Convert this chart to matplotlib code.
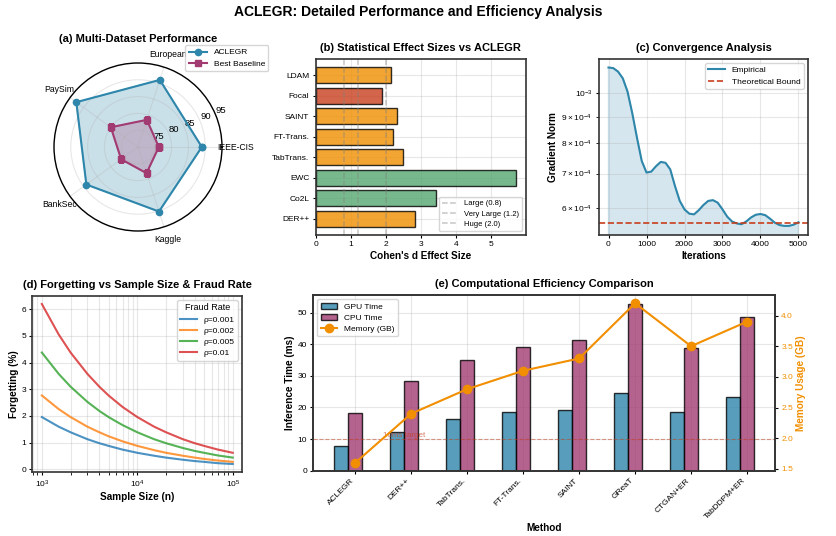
import numpy as np
import matplotlib
matplotlib.use("Agg")
import matplotlib.pyplot as plt

plt.rcParams['font.family'] = ['Liberation Sans', 'DejaVu Sans']
plt.rcParams['axes.linewidth'] = 1.2
plt.rcParams['axes.edgecolor'] = '#333333'
plt.rcParams['xtick.labelsize'] = 6
plt.rcParams['ytick.labelsize'] = 6
plt.rcParams['xtick.major.size'] = 2.5
plt.rcParams['ytick.major.size'] = 2.5
plt.rcParams['xtick.major.pad'] = 2
plt.rcParams['ytick.major.pad'] = 2

BLUE = '#2E86AB'
PURPLE = '#A23B72'
ORANGE = '#F18F01'
RED = '#C73E1D'
GREEN = '#55A870'

# ---------------- data ----------------
radar_cats = ['IEEE-CIS', 'European', 'PaySim', 'BankSec', 'Kaggle']
radar_aclegr = [89.0, 91.0, 92.7, 89.0, 90.2]
radar_base = [76.2, 78.5, 80.0, 76.2, 78.2]
radar_ticks = [75, 80, 85, 90, 95]

effect_methods = ['DER++', 'Co2L', 'EWC', 'TabTrans.', 'FT-Trans.', 'SAINT', 'Focal', 'LDAM']
effect_values = [2.82, 3.43, 5.70, 2.48, 2.19, 2.31, 1.88, 2.14]
effect_colors = [ORANGE, GREEN, GREEN, ORANGE, ORANGE, ORANGE, RED, ORANGE]
thresholds = [0.8, 1.2, 2.0]
threshold_labels = ['Large (0.8)', 'Very Large (1.2)', 'Huge (2.0)']

iters = [0, 125, 250, 375, 500, 625, 750, 875, 1000, 1125, 1250, 1375, 1500,
         1625, 1750, 1875, 2000, 2125, 2250, 2375, 2500, 2625, 2750, 2875,
         3000, 3125, 3250, 3375, 3500, 3625, 3750, 3875, 4000, 4125, 4250,
         4375, 4500, 4625, 4750, 4875, 5000]
grad_norm = [1.120e-3, 1.117e-3, 1.100e-3, 1.068e-3, 1.007e-3, 9.15e-4, 8.20e-4,
             7.40e-4, 7.03e-4, 7.06e-4, 7.23e-4, 7.37e-4, 7.34e-4, 7.13e-4,
             6.62e-4, 6.20e-4, 5.97e-4, 5.86e-4, 5.84e-4, 5.95e-4, 6.09e-4,
             6.20e-4, 6.22e-4, 6.15e-4, 5.97e-4, 5.78e-4, 5.66e-4, 5.61e-4,
             5.59e-4, 5.66e-4, 5.76e-4, 5.83e-4, 5.85e-4, 5.82e-4, 5.73e-4,
             5.63e-4, 5.57e-4, 5.55e-4, 5.55e-4, 5.58e-4, 5.64e-4]
bound_value = 5.61e-4

sample_sizes = [1000, 1500, 2000, 3000, 4000, 5000, 7000, 10000, 15000, 20000,
                30000, 40000, 50000, 70000, 100000]
fraud_labels = ['ρ=0.001', 'ρ=0.002', 'ρ=0.005', 'ρ=0.01']
forget_001 = [1.96, 1.60, 1.39, 1.13, 0.98, 0.88, 0.74, 0.62, 0.51, 0.44, 0.36, 0.31, 0.28, 0.23, 0.20]
forget_002 = [2.77, 2.26, 1.96, 1.60, 1.39, 1.24, 1.05, 0.88, 0.72, 0.62, 0.51, 0.44, 0.39, 0.33, 0.28]
forget_005 = [4.38, 3.58, 3.10, 2.53, 2.19, 1.96, 1.66, 1.39, 1.13, 0.98, 0.80, 0.69, 0.62, 0.52, 0.44]
forget_010 = [6.20, 5.06, 4.38, 3.58, 3.10, 2.77, 2.34, 1.96, 1.60, 1.39, 1.13, 0.98, 0.88, 0.74, 0.62]
fraud_colors = ['#1f77b4', '#ff7f0e', '#2ca02c', '#d62728']

eff_methods = ['ACLEGR', 'DER++', 'TabTrans.', 'FT-Trans.', 'SAINT', 'GReaT', 'CTGAN+ER', 'TabDDPM+ER']
gpu_time = [7.8, 12.2, 16.4, 18.7, 19.2, 24.5, 18.7, 23.4]
cpu_time = [18.2, 28.3, 35.1, 39.2, 41.3, 52.8, 38.9, 48.7]
memory_gb = [1.6, 2.4, 2.8, 3.1, 3.3, 4.2, 3.5, 3.9]
target_ms = 10

# ---------------- figure ----------------
W, H = 837, 536
fig = plt.figure(figsize=(W / 100, H / 100), dpi=100)

def rect(l, t, r, b):
    return [l / W, 1 - b / H, (r - l) / W, (b - t) / H]

fig.suptitle('ACLEGR: Detailed Performance and Efficiency Analysis',
             fontsize=10, fontweight='bold', y=1 - 12 / H, va='center')

# (a) radar
axa = fig.add_axes(rect(54, 63, 222, 231), projection='polar')
angles = np.linspace(0, 2 * np.pi, len(radar_cats), endpoint=False).tolist()
ang_c = angles + angles[:1]
va = radar_aclegr + radar_aclegr[:1]
vb = radar_base + radar_base[:1]
axa.plot(ang_c, va, 'o-', color=BLUE, lw=1.5, ms=4.5, label='ACLEGR')
axa.fill(ang_c, va, color=BLUE, alpha=0.25)
axa.plot(ang_c, vb, 's-', color=PURPLE, lw=1.5, ms=4.5, label='Best Baseline')
axa.fill(ang_c, vb, color=PURPLE, alpha=0.25)
axa.set_xticks(angles)
axa.set_xticklabels(radar_cats, fontsize=6.2)
axa.set_ylim(70, 95)
axa.set_yticks(radar_ticks)
axa.set_yticklabels([str(t) for t in radar_ticks], fontsize=6.8)
axa.grid(True, alpha=0.3)
axa.spines['polar'].set_color('black')
axa.spines['polar'].set_linewidth(1.0)
axa.tick_params(axis='x', pad=0)
axa.set_title('(a) Multi-Dataset Performance', fontsize=8, fontweight='bold', pad=15)
axa.legend(loc='upper right', bbox_to_anchor=(1.3, 1.13), fontsize=6,
           handlelength=2.2, borderpad=0.4, labelspacing=0.4)

# (b) effect sizes
axb = fig.add_axes(rect(315.7, 59, 525.7, 235))
ypos = np.arange(len(effect_methods))
axb.barh(ypos, effect_values, height=0.8, color=effect_colors, alpha=0.8,
         edgecolor='black', linewidth=1.0)
for t, lab in zip(thresholds, threshold_labels):
    axb.axvline(t, color='gray', linestyle='--', alpha=0.45, linewidth=1.1, label=lab)
axb.set_yticks(ypos)
axb.set_yticklabels(effect_methods)
axb.set_xlabel("Cohen's d Effect Size", fontsize=7.2, fontweight='bold', labelpad=2)
axb.set_title('(b) Statistical Effect Sizes vs ACLEGR', fontsize=8, fontweight='bold')
axb.grid(True, alpha=0.3)
axb.set_axisbelow(True)
axb.legend(loc='lower right', fontsize=5.5, labelspacing=0.4)

# (c) convergence
axc = fig.add_axes(rect(599, 59, 808, 235))
axc.plot(iters, grad_norm, color=BLUE, lw=1.5, label='Empirical')
axc.fill_between(iters, grad_norm, 1e-5, color=BLUE, alpha=0.2)
axc.axhline(bound_value, color=RED, linestyle='--', lw=1.2, label='Theoretical Bound')
axc.set_yscale('log')
axc.set_ylim(5.33e-4, 1.163e-3)
axc.set_xlim(-250, 5250)
axc.set_xlabel('Iterations', fontsize=7.2, fontweight='bold', labelpad=2)
axc.set_ylabel('Gradient Norm', fontsize=7.2, fontweight='bold', labelpad=2)
axc.set_title('(c) Convergence Analysis', fontsize=8, fontweight='bold')
axc.grid(True, which='both', alpha=0.3)
axc.tick_params(axis='y', which='minor', labelsize=6)
axc.legend(loc='upper right', fontsize=6, labelspacing=0.4)

# (d) forgetting
axd = fig.add_axes(rect(32.3, 296, 242.3, 472))
for vals, lab, col in zip([forget_001, forget_002, forget_005, forget_010], fraud_labels, fraud_colors):
    axd.plot(sample_sizes, vals, color=col, lw=1.5, alpha=0.8, label=lab)
axd.set_xscale('log')
axd.set_xlabel('Sample Size (n)', fontsize=7.2, fontweight='bold', labelpad=2)
axd.set_ylabel('Forgetting (%)', fontsize=7.2, fontweight='bold', labelpad=2)
axd.set_title('(d) Forgetting vs Sample Size & Fraud Rate', fontsize=8, fontweight='bold')
axd.grid(True, which='both', alpha=0.3)
axd.legend(title='Fraud Rate', loc='upper right', fontsize=6, title_fontsize=6.5,
           labelspacing=0.4)

# (e) efficiency
axe = fig.add_axes(rect(313.3, 295.3, 775, 470.7))
x = np.arange(len(eff_methods))
w = 0.25
b1 = axe.bar(x - w, gpu_time, w, color=BLUE, alpha=0.8, edgecolor='black', linewidth=1.0, label='GPU Time')
b2 = axe.bar(x, cpu_time, w, color=PURPLE, alpha=0.8, edgecolor='black', linewidth=1.0, label='CPU Time')
axe.axhline(target_ms, color=RED, linestyle='--', alpha=0.5, lw=0.8)
axe.text(0.5, target_ms + 0.5, '10ms target', fontsize=5.8, color=RED, alpha=0.7)
axe.set_xticks(x)
axe.set_xticklabels(eff_methods, rotation=45, ha='right')
axe.set_xlabel('Method', fontsize=7.2, fontweight='bold', labelpad=2)
axe.set_ylabel('Inference Time (ms)', fontsize=7.2, fontweight='bold', labelpad=2)
axe.set_title('(e) Computational Efficiency Comparison', fontsize=8, fontweight='bold')
axe.grid(True, alpha=0.3)
axe.set_axisbelow(True)
ax2 = axe.twinx()
l1, = ax2.plot(x, memory_gb, 'o-', color=ORANGE, lw=1.5, ms=6, label='Memory (GB)')
ax2.set_ylabel('Memory Usage (GB)', fontsize=7.2, fontweight='bold', color=ORANGE, labelpad=2)
ax2.tick_params(axis='y', labelcolor=ORANGE, labelsize=6)
ax2.legend([b1, b2, l1], ['GPU Time', 'CPU Time', 'Memory (GB)'], loc='upper left',
           fontsize=6, labelspacing=0.4)

fig.savefig('out.png', dpi=100)
